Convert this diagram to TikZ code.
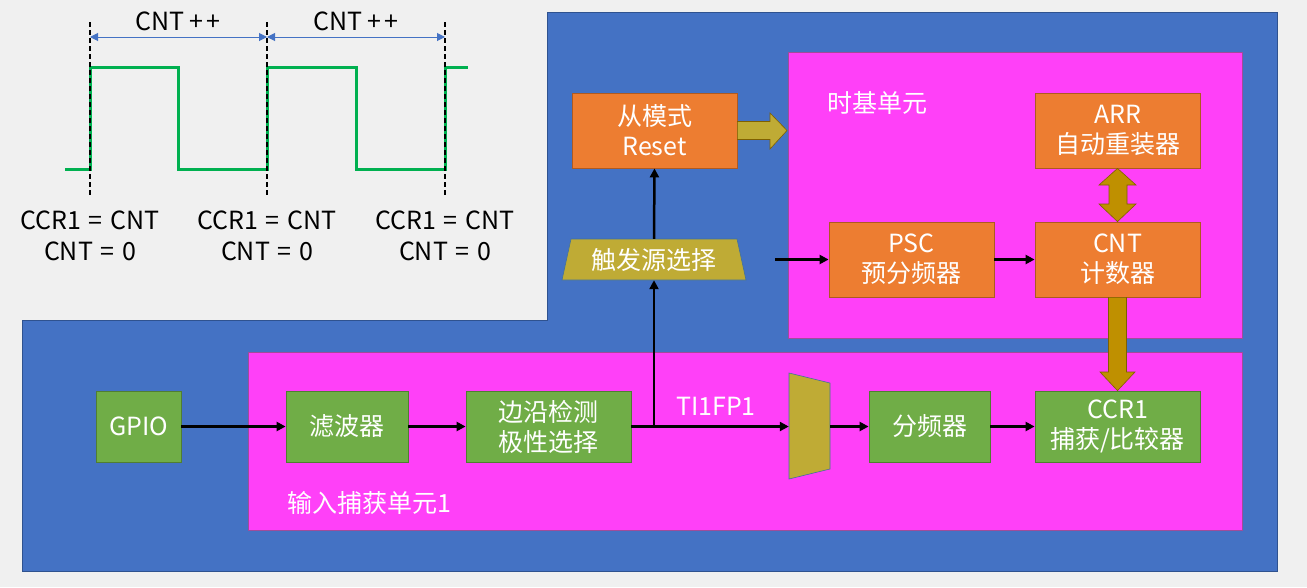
\documentclass[tikz,border=0pt]{standalone}
\usepackage{fontspec}
\setmainfont{Noto Sans CJK SC}
\usetikzlibrary{arrows.meta,calc}
\definecolor{bgc}{HTML}{F0F0F0}
\definecolor{blu}{HTML}{4472C4}
\definecolor{bluedge}{HTML}{2F528F}
\definecolor{mag}{HTML}{FF40F8}
\definecolor{magedge}{HTML}{A04C9A}
\definecolor{org}{HTML}{ED7D31}
\definecolor{orgedge}{HTML}{AE5A21}
\definecolor{grn}{HTML}{70AD47}
\definecolor{grnedge}{HTML}{507E32}
\definecolor{gold}{HTML}{BF9000}
\definecolor{goldedge}{HTML}{7F6000}
\definecolor{olive}{HTML}{BFAB35}
\definecolor{oliveedge}{HTML}{41719C}
\definecolor{wave}{HTML}{00B050}
\tikzset{
  txt/.style={font=\fontsize{25}{30}\selectfont, align=center, text=white, inner sep=0pt},
  obox/.style={txt, draw=orgedge, fill=org, line width=0.8pt, minimum width=165pt, minimum height=75pt},
  gbox/.style={txt, draw=grnedge, fill=grn, line width=0.8pt, minimum height=71pt},
  region/.style={fill=mag, draw=magedge, line width=0.6pt},
  sig/.style={line width=2.5pt, -{Triangle[length=9pt,width=9pt]}},
  fat/.style={fill=gold, draw=goldedge, line width=0.6pt},
  wavelbl/.style={font=\fontsize{25}{31}\selectfont, align=center, text=black, inner sep=0pt},
  guide/.style={line width=1.3pt, dash pattern=on 5pt off 3pt},
  span/.style={draw=blu, line width=1pt, {Triangle[length=8pt,width=8pt]}-{Triangle[length=8pt,width=8pt]}}
}
\begin{document}
\begin{tikzpicture}[x=1pt,y=-1pt]
\useasboundingbox (0,0) rectangle (1307,587);
\fill[bgc] (0,0) rectangle (1307,587);
% blue area
\filldraw[fill=blu, draw=bluedge, line width=0.8pt] (22,320) -- (547,320) -- (547,12) -- (1277,12) -- (1277,571) -- (22,571) -- cycle;
% regions
\draw[region] (788,52) rectangle (1242,338);
\draw[region] (248,352) rectangle (1242,530);
\node[txt] (tblbl) at (877,103) {时基单元};
\node[txt] (iclbl) at (369,503) {输入捕获单元1};

% waveform
\coordinate (g1t) at (90,22); \coordinate (g1b) at (90,197);
\coordinate (g2t) at (267,22); \coordinate (g2b) at (267,197);
\coordinate (g3t) at (445,22); \coordinate (g3b) at (445,197);
\draw[wave, line width=3pt, line join=miter] (65,169) -- (90,169) -- (90,67) -- (178,67) -- (178,169) -- (267,169) -- (267,67) -- (356,67) -- (356,169) -- (445,169) -- (445,67) -- (468,67);
\draw[guide] (g1t) -- (g1b);
\draw[guide] (g2t) -- (g2b);
\draw[guide] (g3t) -- (g3b);
\coordinate (s1) at (90,37); \coordinate (s2) at (267,37); \coordinate (s3) at (445,37);
\draw[span] (s1) -- (s2);
\draw[span] (s2) -- (s3);
\node[wavelbl] (c1) at (178,21) {CNT +\kern3pt+};
\node[wavelbl] (c2) at (356,21) {CNT +\kern3pt+};
\node[wavelbl] (e1) at (90,236) {CCR1\kern2pt{} = \kern2pt{}CNT\\CNT\kern2pt{} = \kern2pt{}0};
\node[wavelbl] (e2) at (267,236) {CCR1\kern2pt{} = \kern2pt{}CNT\\CNT\kern2pt{} = \kern2pt{}0};
\node[wavelbl] (e3) at (445,236) {CCR1\kern2pt{} = \kern2pt{}CNT\\CNT\kern2pt{} = \kern2pt{}0};

% orange boxes
\node[obox] (slave) at (654.5,130.5) {从模式\\Reset};
\node[obox] (arr) at (1117.5,130.5) {ARR\\自动重装器};
\node[obox] (psc) at (911.5,259.5) {PSC\\预分频器};
\node[obox] (cnt) at (1117.5,259.5) {CNT\\计数器};

% green boxes
\node[gbox, minimum width=85pt] (gpio) at (138.5,426.5) {GPIO};
\node[gbox, minimum width=122pt] (filt) at (347,426.5) {滤波器};
\node[gbox, minimum width=165pt] (edge) at (548.5,426.5) {边沿检测\\极性选择};
\node[gbox, minimum width=121pt] (div) at (929.5,426.5) {分频器};
\node[gbox, minimum width=165pt] (ccr) at (1117.5,426.5) {CCR1\\捕获/比较器};

% trigger select trapezoid
\filldraw[fill=olive, draw=oliveedge, line width=0.6pt] (571,239) -- (737,239) -- (746,280) -- (562,280) -- cycle;
\node[txt, minimum width=184pt, minimum height=41pt] (trig) at (654,259.5) {触发源选择};

% mux trapezoid
\filldraw[fill=olive, draw=oliveedge, line width=0.6pt] (789,373) -- (830,383) -- (830,469) -- (789,479) -- cycle;
\node[inner sep=0pt, minimum width=41pt, minimum height=106pt] (mux) at (809.5,426.5) {};
\node[txt] (ti) at (716,406) {TI1FP1};

% signal arrows
\coordinate (j) at (654,426.5);
\coordinate (tstart) at (775,259.5);
\draw[sig] (gpio.east) -- (filt.west);
\draw[sig] (filt.east) -- (edge.west);
\draw[sig] (edge.east) -- (mux.west);
\draw[sig] (mux.east) -- (div.west);
\draw[sig] (div.east) -- (ccr.west);
\draw[sig] (j) -- (trig.south);
\draw[sig] (trig.north) -- (slave.south);
\draw[sig] (tstart) -- (psc.west);
\draw[sig] (psc.east) -- (cnt.west);

% fat arrows
\draw[fill=olive, draw=goldedge, line width=0.6pt] ($(slave.east)+(0,-9)$) -- (770,121.5) -- (770,113) -- (787,130.5) -- (770,149) -- (770,139.5) -- ($(slave.east)+(0,9)$) -- cycle;
\draw[fat] (arr.south) -- (1136,185) -- (1127,185) -- (1127,204) -- (1136,204) -- (cnt.north) -- (1099,204) -- (1109,204) -- (1109,185) -- (1099,185) -- cycle;
\draw[fat] ($(cnt.south)+(-9,0)$) -- ($(cnt.south)+(9,0)$) -- (1126.5,372) -- (1135,372) -- (ccr.north) -- (1100,372) -- (1108.5,372) -- cycle;
\end{tikzpicture}
\end{document}
